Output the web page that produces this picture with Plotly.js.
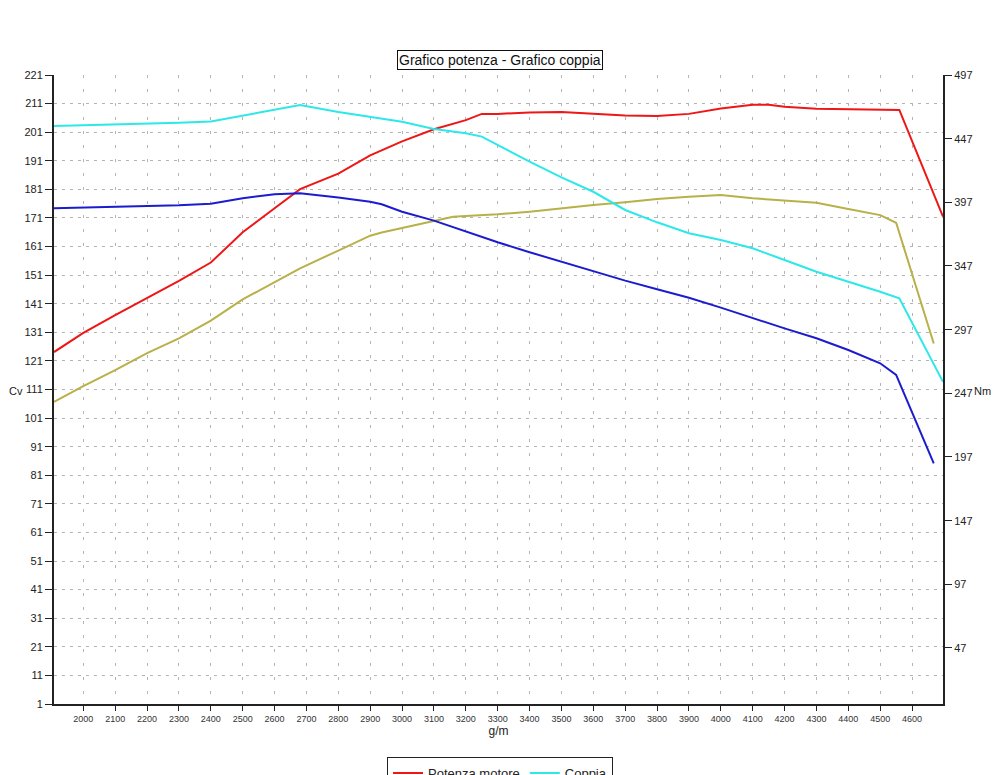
<!DOCTYPE html>
<html>
<head>
<meta charset="utf-8">
<script src="https://cdn.plot.ly/plotly-3.0.1.min.js"></script>
<style>html,body{margin:0;padding:0;background:#fff;}#chart{width:1000px;height:775px;}</style>
</head>
<body>
<div id="chart"></div>
<script>
// Run 1 (red power / cyan torque)
var rpm1 = [1908, 2000, 2100, 2200, 2300, 2400, 2500, 2600, 2680, 2800, 2900, 3000, 3100, 3200, 3250, 3300, 3400, 3500, 3600, 3700, 3800, 3900, 4000, 4100, 4150, 4200, 4300, 4400, 4500, 4560, 4697];
var potenza1 = [124.1, 130.8, 137.0, 143.0, 149.0, 155.4, 166.0, 174.4, 181.1, 186.5, 192.9, 197.8, 202.0, 205.2, 207.4, 207.4, 207.9, 208.1, 207.4, 206.8, 206.7, 207.4, 209.3, 210.6, 210.6, 209.9, 209.2, 209.0, 208.8, 208.8, 171.5];
var coppia1 = [457.0, 457.5, 458.3, 459.0, 459.5, 460.5, 465.0, 470.0, 473.4, 468.0, 464.3, 460.3, 454.6, 451.2, 448.6, 442.0, 428.9, 416.6, 405.3, 391.0, 381.3, 372.7, 367.4, 360.9, 356.5, 351.7, 342.5, 334.7, 326.8, 321.6, 256.0];
// Run 2 (olive power / blue torque)
var rpm2 = [1908, 2000, 2100, 2200, 2300, 2400, 2500, 2600, 2680, 2800, 2900, 2936, 3000, 3100, 3160, 3200, 3300, 3400, 3500, 3600, 3700, 3800, 3900, 4000, 4100, 4200, 4300, 4400, 4500, 4550, 4668];
var potenza2 = [106.7, 112.2, 117.8, 123.7, 128.9, 135.1, 142.5, 148.4, 153.4, 159.6, 164.8, 165.9, 167.4, 169.9, 171.4, 171.7, 172.3, 173.2, 174.4, 175.5, 176.5, 177.6, 178.4, 179.0, 177.9, 177.0, 176.3, 174.1, 172.0, 169.3, 127.1];
var coppia2 = [392.3, 392.8, 393.1, 393.6, 394.7, 395.9, 400.2, 403.3, 404.1, 400.8, 397.5, 395.5, 389.6, 382.6, 377.5, 373.9, 365.6, 357.8, 350.4, 342.5, 335.5, 328.7, 322.1, 314.3, 305.9, 298.0, 290.2, 281.0, 270.6, 261.4, 192.0];

var seriesNames = ['Potenza motore', 'Coppia'];
var titleText = 'Grafico potenza - Grafico coppia';

var FONT = 'Liberation Sans, Arial, Helvetica, sans-serif';

var traces = [
  {x: rpm2, y: coppia2, yaxis: 'y2', mode: 'lines', line: {color: '#1c1ccf', width: 2}, showlegend: false, hoverinfo: 'skip'},
  {x: rpm2, y: potenza2, mode: 'lines', line: {color: '#b8b048', width: 2}, showlegend: false, hoverinfo: 'skip'},
  {x: rpm1, y: coppia1, yaxis: 'y2', name: seriesNames[1], mode: 'lines', line: {color: '#2de8e8', width: 2}, legendrank: 2},
  {x: rpm1, y: potenza1, name: seriesNames[0], mode: 'lines', line: {color: '#ee1616', width: 2}, legendrank: 1}
];

var layout = {
  width: 1000, height: 775,
  margin: {l: 54, r: 57, t: 75, b: 71, autoexpand: false},
  paper_bgcolor: '#fff', plot_bgcolor: '#fff',
  font: {family: FONT, color: '#222'},
  showlegend: true,
  legend: {
    orientation: 'h', x: 0.5017, xanchor: 'center', y: -0.0843, yanchor: 'top',
    bordercolor: '#222', borderwidth: 1, bgcolor: '#fff',
    font: {family: FONT, size: 13, color: '#222'},
    traceorder: 'normal'
  },
  xaxis: {
    range: [1908, 4697], tick0: 0, dtick: 100,
    showline: true, linecolor: '#222', linewidth: 2,
    ticks: 'outside', ticklen: 5, tickcolor: '#222', tickwidth: 1,
    tickfont: {size: 9, color: '#333'},
    showgrid: true, gridcolor: '#b4b4b4', gridwidth: 1, griddash: '3px,11px',
    zeroline: false,
    title: {text: 'g/m', font: {size: 12, color: '#222'}, standoff: 2}
  },
  yaxis: {
    range: [1, 221], tick0: 1, dtick: 10,
    showline: true, linecolor: '#222', linewidth: 2,
    ticks: 'outside', ticklen: 7, tickcolor: '#222', tickwidth: 1,
    tickfont: {size: 11, color: '#222'},
    showgrid: true, gridcolor: '#b4b4b4', gridwidth: 1, griddash: '3px,5px',
    zeroline: false
  },
  yaxis2: {
    range: [3, 497], tick0: 47, dtick: 50,
    overlaying: 'y', side: 'right',
    showline: true, linecolor: '#222', linewidth: 2,
    ticks: 'outside', ticklen: 7, tickcolor: '#222', tickwidth: 1,
    tickfont: {size: 11, color: '#222'},
    showgrid: false, zeroline: false
  },
  annotations: [
    {text: titleText, xref: 'paper', yref: 'paper', x: 0.5017, y: 1.0238, xanchor: 'center', yanchor: 'middle',
     showarrow: false, font: {family: FONT, size: 14, color: '#111'},
     bordercolor: '#111', borderwidth: 1, borderpad: 1, bgcolor: '#fff'},
    {text: 'Cv', xref: 'paper', yref: 'paper', x: -0.043, y: 0.4976, xanchor: 'center', yanchor: 'middle',
     showarrow: false, font: {family: FONT, size: 11, color: '#222'}},
    {text: 'Nm', xref: 'paper', yref: 'paper', x: 1.044, y: 0.4976, xanchor: 'center', yanchor: 'middle',
     showarrow: false, font: {family: FONT, size: 11, color: '#222'}}
  ]
};

Plotly.newPlot('chart', traces, layout, {displayModeBar: false, staticPlot: true});
</script>
</body>
</html>
